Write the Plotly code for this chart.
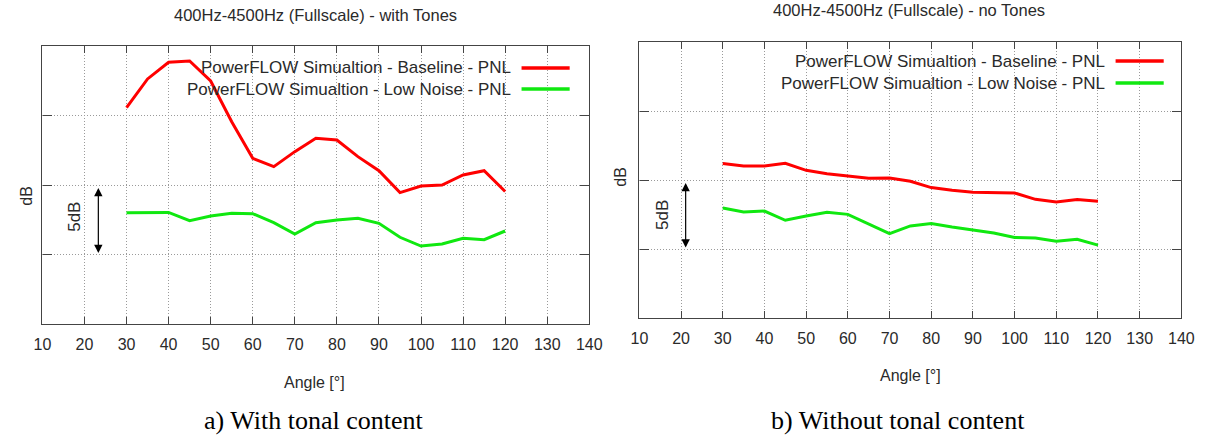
import plotly.graph_objects as go

W, H = 1215, 436

# ---------------- data (relative dB, gridlines every 5 dB) ----------------
angles = [30, 35, 40, 45, 50, 55, 60, 65, 70, 75, 80, 85, 90, 95, 100, 105, 110, 115, 120]

tones_baseline = [15.56, 17.63, 18.83, 18.92, 17.48, 14.55, 11.92, 11.32, 12.40, 13.36,
                  13.24, 12.04, 11.03, 9.45, 9.93, 10.00, 10.72, 11.03, 9.53]
tones_lownoise = [8.01, 8.01, 8.03, 7.43, 7.77, 7.96, 7.94, 7.29, 6.47, 7.29,
                  7.48, 7.60, 7.24, 6.24, 5.61, 5.76, 6.17, 6.07, 6.69]

notones_baseline = [11.19, 11.01, 11.01, 11.21, 10.70, 10.46, 10.29, 10.12, 10.14, 9.91,
                    9.45, 9.25, 9.11, 9.08, 9.06, 8.60, 8.41, 8.58, 8.46]
notones_lownoise = [7.97, 7.68, 7.75, 7.08, 7.39, 7.66, 7.51, 6.84, 6.12, 6.67,
                    6.84, 6.59, 6.36, 6.16, 5.83, 5.80, 5.56, 5.70, 5.28]

series_names = ["PowerFLOW Simualtion - Baseline - PNL",
                "PowerFLOW Simualtion - Low Noise - PNL"]
x_ticks = [10, 20, 30, 40, 50, 60, 70, 80, 90, 100, 110, 120, 130, 140]
titles = ["400Hz-4500Hz (Fullscale) - with Tones", "400Hz-4500Hz (Fullscale) - no Tones"]
captions = ["a) With tonal content", "b) Without tonal content"]

RED = "#ff0000"
GREEN = "#10e810"
FONT = "Liberation Sans"
TXT = "#2a2a2a"
FRAME = "#444444"


def px(x):
    return x / W


def py(y):
    return 1 - y / H


# panel frames in pixels: (left, top, right, bottom)
panels = [(34, 46, 591, 324), (642, 42, 1194, 318)]

fig = go.Figure()

data_sets = [(tones_baseline, tones_lownoise), (notones_baseline, notones_lownoise)]
for i, (base, low) in enumerate(data_sets):
    xa = "x" if i == 0 else "x2"
    ya = "y" if i == 0 else "y2"
    fig.add_trace(go.Scatter(x=angles, y=base, mode="lines", name=series_names[0],
                             line=dict(color=RED, width=3), xaxis=xa, yaxis=ya,
                             showlegend=False))
    fig.add_trace(go.Scatter(x=angles, y=low, mode="lines", name=series_names[1],
                             line=dict(color=GREEN, width=3), xaxis=xa, yaxis=ya,
                             showlegend=False))

axis_common_x = dict(range=[10, 140], tickmode="array", tickvals=x_ticks,
                     ticktext=[str(t) for t in x_ticks],
                     ticks="inside", ticklen=7, tickwidth=1.4, tickcolor=FRAME,
                     showline=True, linecolor=FRAME, linewidth=1.4, mirror="ticks",
                     showgrid=True, gridcolor="#9a9a9a", griddash="1px,2px", gridwidth=1,
                     zeroline=False, tickfont=dict(family=FONT, size=16, color=TXT),
                     ticklabelstandoff=6, fixedrange=True)
axis_common_y = dict(range=[0, 20], tickmode="linear", tick0=0, dtick=5,
                     ticks="inside", ticklen=9, tickwidth=1.4, tickcolor=FRAME,
                     showline=True, linecolor=FRAME, linewidth=1.4, mirror="ticks",
                     showgrid=True, gridcolor="#9a9a9a", griddash="1px,2px", gridwidth=1,
                     zeroline=False, showticklabels=False, fixedrange=True)

l, t, r, b = panels[0]
fig.update_layout(
    xaxis=dict(domain=[px(l), px(r)], anchor="y", **axis_common_x),
    yaxis=dict(domain=[py(b), py(t)], anchor="x", **axis_common_y),
)
l, t, r, b = panels[1]
fig.update_layout(
    xaxis2=dict(domain=[px(l), px(r)], anchor="y2", **axis_common_x),
    yaxis2=dict(domain=[py(b), py(t)], anchor="x2", **axis_common_y),
)

annotations = []
shapes = []

# titles, axis labels, captions
title_pos = [(312, 15), (917, 10)]
angle_pos = [(311, 382), (918, 375)]
caption_pos = [(310, 420), (905, 420)]
db_pos = [(17, 196), (623, 177)]
for i in range(2):
    annotations.append(dict(text=titles[i], x=px(title_pos[i][0]), y=py(title_pos[i][1]),
                            xref="paper", yref="paper", showarrow=False,
                            xanchor="center", yanchor="middle",
                            font=dict(family=FONT, size=16.5, color=TXT)))
    annotations.append(dict(text="Angle [°]", x=px(angle_pos[i][0]), y=py(angle_pos[i][1]),
                            xref="paper", yref="paper", showarrow=False,
                            xanchor="center", yanchor="middle",
                            font=dict(family=FONT, size=16, color=TXT)))
    annotations.append(dict(text=captions[i], x=px(caption_pos[i][0]), y=py(caption_pos[i][1]),
                            xref="paper", yref="paper", showarrow=False,
                            xanchor="center", yanchor="middle",
                            font=dict(family="Liberation Serif", size=26, color="#000")))
    annotations.append(dict(text="dB", x=px(db_pos[i][0]), y=py(db_pos[i][1]),
                            xref="paper", yref="paper", showarrow=False, textangle=-90,
                            xanchor="center", yanchor="middle",
                            font=dict(family=FONT, size=16, color=TXT)))

# manual legends (text on the left, line sample on the right)
legend_rows = [[(513, 68), (513, 89)], [(1118, 61), (1118, 83)]]
for i in range(2):
    for j, colr in enumerate([RED, GREEN]):
        xt, yt = legend_rows[i][j]
        annotations.append(dict(text=series_names[j], x=px(xt), y=py(yt),
                                xref="paper", yref="paper", showarrow=False,
                                xanchor="right", yanchor="middle",
                                font=dict(family=FONT, size=17, color=TXT)))
        shapes.append(dict(type="line", xref="paper", yref="paper",
                           x0=px(xt + 9), x1=px(xt + 58), y0=py(yt), y1=py(yt),
                           line=dict(color=colr, width=3.5)))

# 5 dB scale arrows
arrow_x = [23.3, 21.1]
text_pos = [(66, 217), (665, 215)]
for i in range(2):
    xa = "x" if i == 0 else "x2"
    ya = "y" if i == 0 else "y2"
    annotations.append(dict(x=arrow_x[i], y=5.1, ax=arrow_x[i], ay=9.9,
                            xref=xa, yref=ya, axref=xa, ayref=ya,
                            showarrow=True, arrowhead=2, arrowside="end+start",
                            arrowsize=1.4, arrowwidth=1.2, arrowcolor="#000", text=""))
    annotations.append(dict(text="5dB", x=px(text_pos[i][0]), y=py(text_pos[i][1]),
                            xref="paper", yref="paper", showarrow=False, textangle=-90,
                            xanchor="center", yanchor="middle",
                            font=dict(family=FONT, size=17, color=TXT)))

fig.update_layout(
    width=W, height=H,
    margin=dict(l=0, r=0, t=0, b=0),
    paper_bgcolor="white", plot_bgcolor="white",
    annotations=annotations, shapes=shapes,
    showlegend=False,
)

fig.write_html("out.html", config={"displayModeBar": False})
